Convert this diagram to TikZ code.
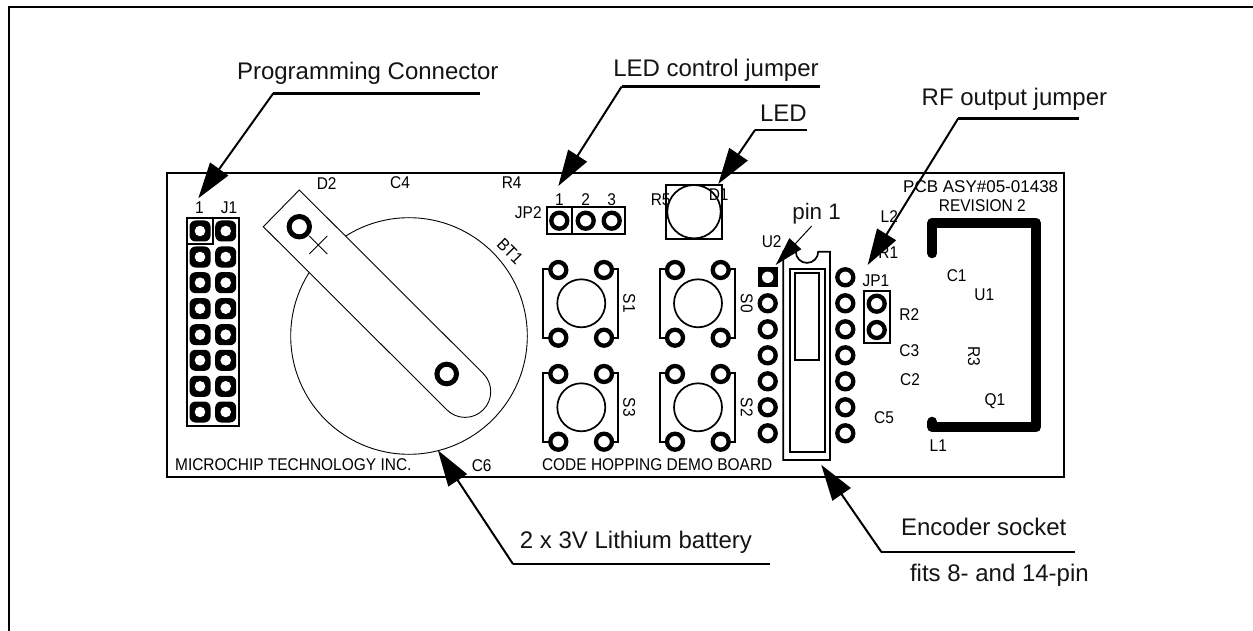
\documentclass[tikz,border=0pt]{standalone}
\usepackage{fontspec}
\setmainfont{Liberation Sans}
\usetikzlibrary{arrows.meta}
\newcommand{\Cd}[1]{\scalebox{.91}[1]{#1}}
\tikzset{
  lbl/.style={anchor=base west,inner sep=0pt,outer sep=0pt,text=black!92,font=\fontsize{24}{24}\selectfont},
  cad/.style={anchor=center,inner sep=0pt,outer sep=0pt,font=\fontsize{17}{17}\selectfont},
  outerframe/.style={line width=2pt},
  boardedge/.style={line width=1.9pt},
  hair/.style={line width=0.9pt},
  outlinebox/.style={line width=1.7pt},
  ring/.style={line width=4.3pt,fill=white},
  shelf/.style={line width=2.7pt},
  leader/.style={line width=2pt,-{Triangle[length=36pt,width=22pt]},shorten >=0pt},
  thinleader/.style={line width=1pt,-{Triangle[length=29pt,width=16pt]}},
  trace/.style={line width=10pt,line cap=round,line join=round}
}
\begin{document}
\begin{tikzpicture}[x=1pt,y=-1pt]
\useasboundingbox (0,0) rectangle (1253,631);
% outer frame
\draw[outerframe] (9,631) -- (9,6.7) -- (1253,6.7);
% board
\draw[boardedge] (166.7,172.7) rectangle (1064,477);
% battery
\draw[hair] (409,336) circle[radius=118.3pt];
\draw[hair,fill=white] (299.3,190) -- (483.2,373.5) arc[start angle=45,end angle=-135,radius=25.7pt] -- (263.3,226.7) -- cycle;
\draw[hair] (309.3,236) -- (327.3,254);
\draw[hair] (309.3,254) -- (327.3,236);
\draw[line width=5pt,fill=white] (299.3,226.7) circle[radius=10.2pt];
\draw[line width=5pt,fill=white] (446.7,374) circle[radius=9.8pt];
% J1
\draw[outlinebox] (186.7,217.7) rectangle (239.3,425.7);
\draw[outlinebox] (186.7,217.7) rectangle (213.3,244.3);
\foreach \py in {231,257,282.7,308.7,334.7,360.3,386.3,412} {
  \foreach \px in {200,225.7} {
    \fill[black,rounded corners=6pt] (\px-10.5,\py-10.5) rectangle (\px+10.5,\py+10.5);
    \fill[white] (\px,\py) circle[radius=5.3pt];
  }
}
% JP2
\draw[outlinebox] (546.7,207.3) rectangle (625,234);
\draw[outlinebox] (572.3,207.3) -- (572.3,234);
\foreach \px in {559.3,585.7,611.7} { \draw[ring] (\px,220.7) circle[radius=8pt]; }
% LED
\draw[line width=2.4pt] (665.7,185) rectangle (721.7,239);
\draw[outlinebox] (694,211.7) circle[radius=26.7pt];
% switches
\foreach \ox/\oy in {0/0,116.7/0,0/104,116.7/104} {
  \begin{scope}[shift={(\ox,\oy)}]
    \draw[outlinebox] (558.3,269.3) -- (543.3,269.3) -- (543.3,338.3) -- (558.3,338.3);
    \draw[outlinebox] (604,269.3) -- (618.3,269.3) -- (618.3,338.3) -- (604,338.3);
    \draw[outlinebox] (581.3,303.3) circle[radius=24pt];
    \draw[ring] (558.3,270) circle[radius=8pt];
    \draw[ring] (604,270) circle[radius=8pt];
    \draw[ring] (558.3,337.7) circle[radius=8pt];
    \draw[ring] (604,337.7) circle[radius=8pt];
  \end{scope}
}
% U2 pads
\fill[black] (757.7,267.3) rectangle (777.7,287.3);
\fill[white] (767.7,277.3) circle[radius=5.7pt];
\foreach \py in {303.3,329.3,355.3,381.3,407.3,433.3} { \draw[ring] (767.7,\py) circle[radius=8pt]; }
\foreach \py in {277.3,303.3,329.3,355.3,381.3,407.3,433.3} { \draw[ring] (845.3,\py) circle[radius=8pt]; }
% socket
\draw[outlinebox] (783.3,460) -- (783.3,251.7) -- (795.8,251.7) arc[start angle=180,end angle=360,radius=11.2pt] -- (830,251.7) -- (830,460) -- cycle;
\draw[outlinebox] (790,269) rectangle (825,452.3);
\draw[outlinebox] (794.7,272.7) rectangle (818.7,360);
% JP1
\draw[outlinebox] (863.7,291) rectangle (890,342.7);
\draw[ring] (876.7,303.7) circle[radius=8pt];
\draw[ring] (876.7,330) circle[radius=8pt];
% antenna trace
\draw[trace] (932.3,253.3) -- (932.3,222.7) -- (1036,222.7) -- (1036,427.3) -- (932.3,427.3) -- (932.3,421.7);
% board texts
\node[cad] (t1) at (199.3,207.3) {\Cd{1}};
\node[cad] (tJ1) at (229,207.3) {\Cd{J1}};
\node[cad] (tD2) at (326.7,183.3) {\Cd{D2}};
\node[cad] (tC4) at (400,182.7) {\Cd{C4}};
\node[cad] (tR4) at (511.7,182.7) {\Cd{R4}};
\node[cad,rotate=-45] (tBT1) at (510,251) {\Cd{BT1}};
\node[cad] (tJP2) at (528.3,212.3) {\Cd{JP2}};
\node[cad] (tp1) at (559.3,200) {\Cd{1}};
\node[cad] (tp2) at (585.7,200) {\Cd{2}};
\node[cad] (tp3) at (611.7,200) {\Cd{3}};
\node[cad] (tR5) at (660.7,200) {\Cd{R5}};
\node[cad] (tD1) at (718.7,194.3) {\Cd{D1}};
\node[cad,rotate=-90] (tS1) at (629.3,303.3) {\Cd{S1}};
\node[cad,rotate=-90] (tS0) at (746.7,303.3) {\Cd{S0}};
\node[cad,rotate=-90] (tS3) at (629.3,407.3) {\Cd{S3}};
\node[cad,rotate=-90] (tS2) at (746.7,407.3) {\Cd{S2}};
\node[cad] (tU2) at (771.7,241.7) {\Cd{U2}};
\node[cad] (tJP1) at (876,281) {\Cd{JP1}};
\node[cad] (tR1) at (888.3,252.7) {\Cd{R1}};
\node[cad] (tL2) at (889.3,216.7) {\Cd{L2}};
\node[cad] (tR2) at (909.3,315) {\Cd{R2}};
\node[cad] (tC3) at (909.3,350.7) {\Cd{C3}};
\node[cad] (tC2) at (910,380) {\Cd{C2}};
\node[cad] (tC5) at (884,417.3) {\Cd{C5}};
\node[cad] (tL1) at (938.3,445.7) {\Cd{L1}};
\node[cad] (tC1) at (956.7,276) {\Cd{C1}};
\node[cad] (tU1) at (984.3,294.3) {\Cd{U1}};
\node[cad,rotate=-90] (tR3) at (974,356) {\Cd{R3}};
\node[cad] (tQ1) at (995,400.7) {\Cd{Q1}};
\node[cad] (tPCB) at (980.7,186.7) {\scalebox{1}[1]{PCB ASY\#05-01438}};
\node[cad] (tREV) at (982.3,206) {\Cd{REVISION 2}};
\node[cad] (tMIC) at (293.3,465) {\Cd{MICROCHIP TECHNOLOGY INC.}};
\node[cad] (tC6) at (481.7,466) {\Cd{C6}};
\node[cad] (tCODE) at (657.2,465) {\Cd{CODE HOPPING DEMO BOARD}};
% callout labels
\node[lbl] (lProg) at (237,80) {Programming Connector};
\node[lbl] (lCtl) at (613.3,76.7) {LED control jumper};
\node[lbl] (lLED) at (760,121.7) {LED};
\node[lbl] (lRF) at (921.7,105.7) {RF output jumper};
\node[lbl,font=\fontsize{22.4}{24}\selectfont] (lPin) at (792.3,219.3) {pin 1};
\node[lbl] (lBat) at (519.9,548.5) {2 x 3V Lithium battery};
\node[lbl] (lEnc) at (901,535.7) {Encoder socket};
\node[lbl] (lFits) at (910,581.9) {fits 8- and 14-pin};
% callout coordinates
\coordinate (pE) at (480,93.3);   \coordinate (pK) at (273.3,93.3);  \coordinate (pT) at (198.3,198.3);
\coordinate (cE) at (820,86.5);   \coordinate (cK) at (621.7,86.5);  \coordinate (cT) at (558.3,186);
\coordinate (lE) at (807,130);    \coordinate (lK) at (755,130);     \coordinate (lT) at (718.3,184);
\coordinate (rE) at (1079,118.3); \coordinate (rK) at (958.3,118.3); \coordinate (rT) at (867.7,265);
\coordinate (bE) at (769.5,564);  \coordinate (bK) at (513,564);     \coordinate (bT) at (437.9,450.3);
\coordinate (eE) at (1075,552);   \coordinate (eK) at (881.4,552);   \coordinate (eT) at (821.2,464.8);
\coordinate (nK) at (811.7,226);  \coordinate (nT) at (775.7,265);
% callouts
\foreach \a/\b/\c in {pE/pK/pT,cE/cK/cT,lE/lK/lT,rE/rK/rT,bE/bK/bT,eE/eK/eT} {
  \draw[shelf] (\a) -- (\b);
  \draw[leader] (\b) -- (\c);
}
\draw[thinleader] (nK) -- (nT);
\end{tikzpicture}
\end{document}
